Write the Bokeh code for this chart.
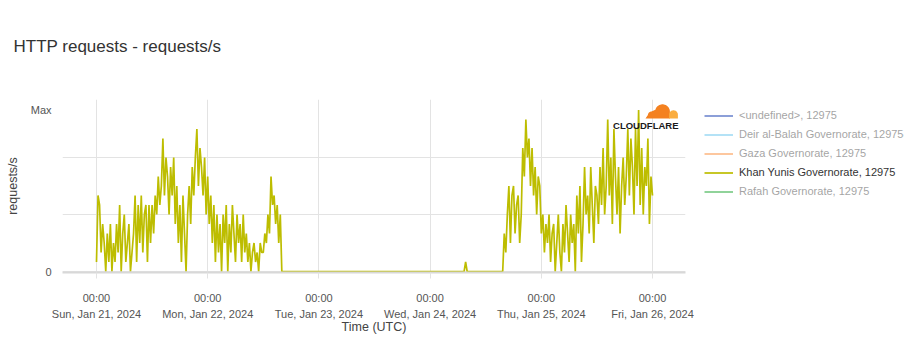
import numpy as np
import pandas as pd
from bokeh.plotting import figure
from bokeh.models import Range1d, FixedTicker, Legend, LegendItem, Label, PolyAnnotation
from bokeh.embed import file_html
from bokeh.resources import INLINE

# ---------------- data ----------------
START = "2024-01-21 00:00"
STEP = "20min"

KHAN_YUNIS = [
    # Sun, Jan 21
    1, 8, 7, 2, 5, 3, 0, 4, 1, 5, 0, 3,
    1, 5, 2, 7, 0, 4, 6, 1, 3, 5, 0, 2,
    4, 8, 1, 7, 3, 8, 2, 6, 7, 1, 7, 3,
    7, 4, 8, 6, 10, 7, 9, 14, 8, 12, 10, 6,
    11, 8, 12, 5, 9, 3, 7, 1, 8, 4, 0, 6,
    9, 5, 11, 8, 12, 15, 9, 13, 11, 8, 12, 6,
    # Mon, Jan 22
    10, 5, 8, 3, 7, 1, 6, 2, 5, 0, 6, 3,
    7, 0, 5, 2, 7, 4, 1, 6, 3, 5, 1, 6,
    2, 4, 1, 3, 0, 2, 3, 1, 2, 0, 3, 2,
    2, 4, 3, 6, 4, 10, 7, 8, 5, 7, 3, 6,
    0, 0, 0, 0, 0, 0, 0, 0, 0, 0, 0, 0,
    0, 0, 0, 0, 0, 0, 0, 0, 0, 0, 0, 0,
    # Tue, Jan 23
    0, 0, 0, 0, 0, 0, 0, 0, 0, 0, 0, 0,
    0, 0, 0, 0, 0, 0, 0, 0, 0, 0, 0, 0,
    0, 0, 0, 0, 0, 0, 0, 0, 0, 0, 0, 0,
    0, 0, 0, 0, 0, 0, 0, 0, 0, 0, 0, 0,
    0, 0, 0, 0, 0, 0, 0, 0, 0, 0, 0, 0,
    0, 0, 0, 0, 0, 0, 0, 0, 0, 0, 0, 0,
    # Wed, Jan 24
    0, 0, 0, 0, 0, 0, 0, 0, 0, 0, 0, 0,
    0, 0, 0, 0, 0, 0, 0, 0, 0, 0, 0, 1,
    0, 0, 0, 0, 0, 0, 0, 0, 0, 0, 0, 0,
    0, 0, 0, 0, 0, 0, 0, 0, 0, 0, 0, 0,
    4, 2, 6, 9, 3, 8, 9, 4, 7, 8, 3, 6,
    13, 10, 16, 12, 14, 9, 13, 8, 11, 6, 10, 9,
    # Thu, Jan 25
    4, 6, 2, 5, 3, 6, 1, 4, 5, 0, 3, 6,
    2, 0, 5, 2, 7, 4, 1, 6, 3, 5, 0, 8,
    4, 9, 1, 5, 11, 6, 8, 4, 11, 7, 3, 9,
    8, 5, 11, 7, 13, 6, 9, 16, 8, 12, 5, 15,
    10, 6, 11, 4, 9, 12, 7, 10, 15, 8, 14, 11,
    6, 15, 9, 17, 7, 13, 6, 11, 9, 14, 5, 10,
    # Fri, Jan 26 00:00
    8,
]

TICK_DATES = ["2024-01-21", "2024-01-22", "2024-01-23", "2024-01-24", "2024-01-25", "2024-01-26"]
TICK_LABELS = [
    "00:00\nSun, Jan 21, 2024",
    "00:00\nMon, Jan 22, 2024",
    "00:00\nTue, Jan 23, 2024",
    "00:00\nWed, Jan 24, 2024",
    "00:00\nThu, Jan 25, 2024",
    "00:00\nFri, Jan 26, 2024",
]
Y_TICKS = [0, 17]
Y_TICK_LABELS = ["0", "Max"]
Y_GRID = [0, 6, 12]

SERIES = [
    "<undefined>, 12975",
    "Deir al-Balah Governorate, 12975",
    "Gaza Governorate, 12975",
    "Khan Yunis Governorate, 12975",
    "Rafah Governorate, 12975",
]
# hidden series are drawn faded by the legend's inactive overlay
SERIES_COLORS = ["#002ca9", "#59bfeb", "#fb8328", "#bdbd00", "#099e21"]
ACTIVE = 3

TITLE = "HTTP requests - requests/s"
FONT = "Liberation Sans"

# ---------------- figure ----------------
times = pd.date_range(START, periods=len(KHAN_YUNIS), freq=STEP)

p = figure(
    frame_width=623, frame_height=173,
    x_axis_type="datetime",
    output_backend="svg", toolbar_location=None,
    min_border_left=62, min_border_right=227, min_border_top=99, min_border_bottom=80,
    x_range=Range1d(pd.Timestamp("2024-01-20 16:40"), pd.Timestamp("2024-01-26 07:07")),
    y_range=Range1d(-0.105, 18.1),
)
p.outline_line_color = None
p.background_fill_color = "white"
p.border_fill_color = "white"

# title (a trailing empty line lifts the text within the top border)
p.title.text = TITLE + "\n"
p.title.text_font = FONT
p.title.text_font_size = "17px"
p.title.text_font_style = "normal"
p.title.text_color = "#333333"
p.title.align = "left"
p.title.vertical_align = "bottom"
p.title.offset = -49
p.title.standoff = 50

# renderers
renderers = []
for i, (name, col) in enumerate(zip(SERIES, SERIES_COLORS)):
    if i == ACTIVE:
        r = p.line(times, KHAN_YUNIS, line_color=col, line_width=1.7)
    else:
        # series switched off in the legend: no values shown
        r = p.line(x=[times[0]], y=[np.nan], line_color=col, line_width=2, visible=False)
    renderers.append(r)

# x axis
tick_ms = [int(pd.Timestamp(d).value // 10**6) for d in TICK_DATES]
xa = p.xaxis[0]
xa.ticker = FixedTicker(ticks=tick_ms)
xa.major_label_overrides = {t: lab for t, lab in zip(tick_ms, TICK_LABELS)}
xa.axis_label = "Time (UTC)"
xa.axis_label_text_font = FONT
xa.axis_label_text_font_size = "12.5px"
xa.axis_label_text_font_style = "normal"
xa.axis_label_text_color = "#444444"
xa.axis_label_standoff = -3
xa.major_label_text_font = FONT
xa.major_label_text_font_size = "11px"
xa.major_label_text_color = "#555555"
xa.major_label_text_line_height = 1.35
xa.major_label_standoff = 13
xa.axis_line_color = "#d8d8d8"
xa.axis_line_width = 2
xa.major_tick_line_color = "#e3e3e3"
xa.major_tick_out = 6
xa.major_tick_in = 0
xa.minor_tick_line_color = None

# y axis
ya = p.yaxis[0]
ya.ticker = FixedTicker(ticks=Y_TICKS)
ya.major_label_overrides = {t: lab for t, lab in zip(Y_TICKS, Y_TICK_LABELS)}
ya.axis_label = "requests/s"
ya.axis_label_text_font = FONT
ya.axis_label_text_font_size = "12.5px"
ya.axis_label_text_font_style = "normal"
ya.axis_label_text_color = "#444444"
ya.axis_label_standoff = 8
ya.major_label_text_font = FONT
ya.major_label_text_font_size = "11px"
ya.major_label_text_color = "#555555"
ya.major_label_standoff = 11
ya.major_tick_out = 0
ya.major_tick_in = 0
ya.axis_line_color = None
ya.major_tick_line_color = None
ya.minor_tick_line_color = None

# grids
p.xgrid.ticker = FixedTicker(ticks=tick_ms)
p.xgrid.grid_line_color = "#e3e3e3"
p.ygrid.ticker = FixedTicker(ticks=Y_GRID)
p.ygrid.grid_line_color = "#e3e3e3"

# legend in the right panel; hidden series appear greyed by the inactive overlay
legend = Legend(
    items=[LegendItem(label=SERIES[i], renderers=[renderers[i]]) for i in range(len(SERIES))],
    location=(19, 71.5),
    orientation="vertical",
    click_policy="hide",
    label_text_font=FONT,
    label_text_font_size="11px",
    label_text_color="#333333",
    glyph_width=29, glyph_height=19, label_height=19,
    label_standoff=6, padding=0, margin=0, spacing=0,
    border_line_color=None, background_fill_alpha=0,
    inactive_fill_color="white", inactive_fill_alpha=0.55,
)
p.add_layout(legend, "right")

# Cloudflare logo (decoration, screen units relative to the frame)
def arc(cx, cy, r, a0, a1, n=24):
    a = np.radians(np.linspace(a0, a1, n))
    return list(cx + r * np.cos(a)), list(cy + r * np.sin(a))

def to_frame(xs, ys):
    return [x - 62 for x in xs], [272 - y for y in ys]

xs1, ys1 = arc(651, 114.6, 3.6, 180, 270)
xs2, ys2 = arc(662, 111.2, 7.4, 195, 360)
dx = [645] + xs1 + xs2 + [669.4, 669.4]
dy = [118] + ys1 + ys2 + [118, 118]
fx, fy = to_frame(dx, dy)
p.add_layout(PolyAnnotation(xs=fx, ys=fy, xs_units="screen", ys_units="screen",
                            fill_color="#f48120", fill_alpha=1, line_color=None))
xs3, ys3 = arc(673, 114.2, 4.4, 180, 360)
lx = [668.6] + xs3 + [677.4]
ly = [118] + ys3 + [118]
fx, fy = to_frame(lx, ly)
p.add_layout(PolyAnnotation(xs=fx, ys=fy, xs_units="screen", ys_units="screen",
                            fill_color="#faad3f", fill_alpha=1, line_color=None))
p.add_layout(Label(x=678 - 62, y=272 - 124.5, x_units="screen", y_units="screen",
                   text="CLOUDFLARE", text_align="right", text_baseline="middle",
                   text_font=FONT, text_font_size="9.5px", text_font_style="bold",
                   text_color="#1a1a1a"))

open("out.html", "w").write(file_html(p, INLINE))
